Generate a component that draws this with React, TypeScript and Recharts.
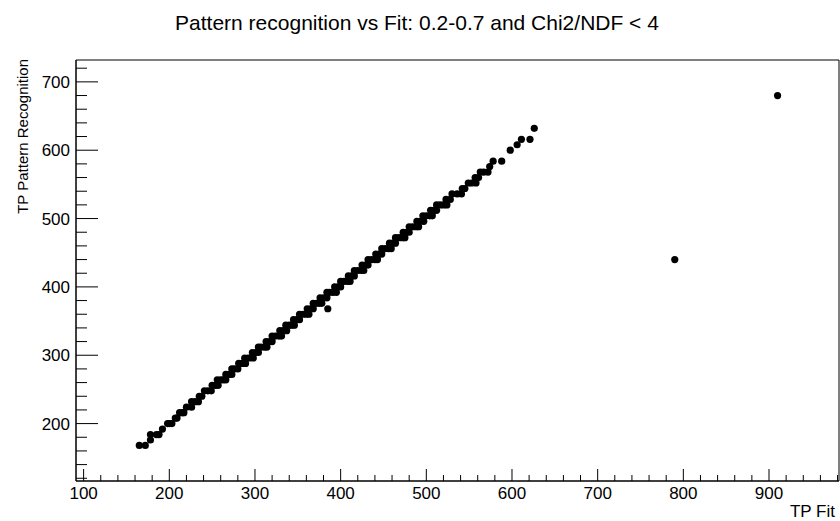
import React from 'react';
import { ScatterChart, Scatter, XAxis, YAxis, ReferenceArea } from 'recharts';

// TP Pattern Recognition levels (the reconstruction is quantised in steps of 8)
const patLevels = [
  168, 176, 184, 192, 200, 208, 216, 224, 232, 240,
  248, 256, 264, 272, 280, 288, 296, 304, 312, 320,
  328, 336, 344, 352, 360, 368, 376, 384, 392, 400,
  408, 416, 424, 432, 440, 448, 456, 464, 472, 480,
  488, 496, 504, 512, 520, 528, 536, 544, 552, 560,
  568, 576, 584, 600, 608, 616, 632,
];

// TP Fit values found at each level above
const fitAtLevel = [
  [165, 172], [178], [178, 185, 188], [192], [198, 200, 203],
  [207, 209], [212, 215, 217], [220, 226], [226, 230, 234], [235, 238],
  [241, 245, 249], [250, 254, 257], [256, 260, 263, 266], [266, 270, 273], [273, 276, 280],
  [281, 285, 289], [288, 292, 295, 298], [297, 301, 304], [304, 307, 311, 314], [313, 317, 320],
  [320, 324, 328, 331], [329, 333, 337], [336, 340, 343, 346], [345, 349, 352], [352, 356, 360, 363],
  [361, 365, 368], [368, 372, 375, 378], [376, 380, 384], [384, 387, 391, 395], [393, 397, 400],
  [400, 404, 408, 411], [409, 413, 416], [416, 420, 424, 427], [425, 429, 432], [432, 436, 440, 443],
  [441, 445, 448], [448, 452, 456, 459], [457, 461, 464], [464, 468, 472, 475], [473, 477, 480],
  [480, 484, 488, 491], [489, 493, 497], [496, 500, 504, 507], [505, 509, 512], [512, 516, 520, 524],
  [523, 528], [530, 536, 541], [542, 545], [549, 553, 558], [557, 561],
  [563, 567, 572], [574], [578, 588], [598], [606],
  [611, 621], [626],
];

// points off the diagonal
const outlierFit = [385, 790, 910];
const outlierPat = [368, 440, 680];

const X_MIN = 91.1;
const X_MAX = 981.7;
const Y_MIN = 116;
const Y_MAX = 732;

const W = 840;
const H = 521;
const LEFT = 76;
const TOP = 60;
const BOTTOM = 481;
const FONT = '"Liberation Sans", Arial, Helvetica, sans-serif';

const points: { fit: number; pat: number }[] = [];
patLevels.forEach((pat, i) => fitAtLevel[i].forEach((fit) => points.push({ fit, pat })));
outlierFit.forEach((fit, i) => points.push({ fit, pat: outlierPat[i] }));

const xTicks: number[] = [];
for (let v = 100; v <= 980; v += 20) xTicks.push(v);
const yTicks: number[] = [];
for (let v = 120; v <= 720; v += 20) yTicks.push(v);

function XTick({ x, payload }: any) {
  const v = payload.value;
  const major = v % 100 === 0;
  return (
    <g>
      <line x1={x} x2={x} y1={BOTTOM} y2={BOTTOM - (major ? 12 : 6)} stroke="#000" />
      {major && (
        <text x={x} y={499} textAnchor="middle" fontSize={17} fontFamily={FONT} fill="#000">
          {v}
        </text>
      )}
    </g>
  );
}

function YTick({ y, payload }: any) {
  const v = payload.value;
  const major = v % 100 === 0;
  return (
    <g>
      <line x1={LEFT} x2={LEFT + (major ? 22 : 11)} y1={y} y2={y} stroke="#000" />
      {major && (
        <text x={70} y={y + 6} textAnchor="end" fontSize={17} fontFamily={FONT} fill="#000">
          {v}
        </text>
      )}
    </g>
  );
}

const Dot = (props: any) => <circle cx={props.cx} cy={props.cy} r={3.6} fill="#000" />;

export default function App() {
  return (
    <div style={{ position: 'relative', width: W, height: H, background: '#fff' }}>
      <style>{'body{margin:0}'}</style>
      <ScatterChart width={W} height={H} margin={{ top: TOP, right: 1, bottom: 0, left: 0 }}>
        <XAxis
          type="number"
          dataKey="fit"
          domain={[X_MIN, X_MAX]}
          ticks={xTicks}
          interval={0}
          allowDataOverflow
          height={40}
          tickLine={false}
          axisLine={{ stroke: '#000' }}
          tick={<XTick />}
        />
        <YAxis
          type="number"
          dataKey="pat"
          domain={[Y_MIN, Y_MAX]}
          ticks={yTicks}
          interval={0}
          allowDataOverflow
          width={76}
          tickLine={false}
          axisLine={{ stroke: '#000' }}
          tick={<YTick />}
        />
        <ReferenceArea
          x1={X_MIN}
          x2={X_MAX}
          y1={Y_MIN}
          y2={Y_MAX}
          fill="none"
          stroke="#000"
          fillOpacity={0}
        />
        <Scatter data={points} shape={Dot} isAnimationActive={false} />
      </ScatterChart>
      <svg
        width={W}
        height={H}
        style={{ position: 'absolute', left: 0, top: 0, pointerEvents: 'none' }}
      >
        <text x={417} y={30} textAnchor="middle" fontSize={21} fontFamily={FONT} fill="#000">
          Pattern recognition vs Fit: 0.2-0.7 and Chi2/NDF &lt; 4
        </text>
        <text
          x={28}
          y={59}
          textAnchor="end"
          fontSize={15}
          fontFamily={FONT}
          fill="#000"
          transform="rotate(-90, 28, 59)"
        >
          TP Pattern Recognition
        </text>
        <text x={835} y={517} textAnchor="end" fontSize={17} fontFamily={FONT} fill="#000">
          TP Fit
        </text>
      </svg>
    </div>
  );
}
